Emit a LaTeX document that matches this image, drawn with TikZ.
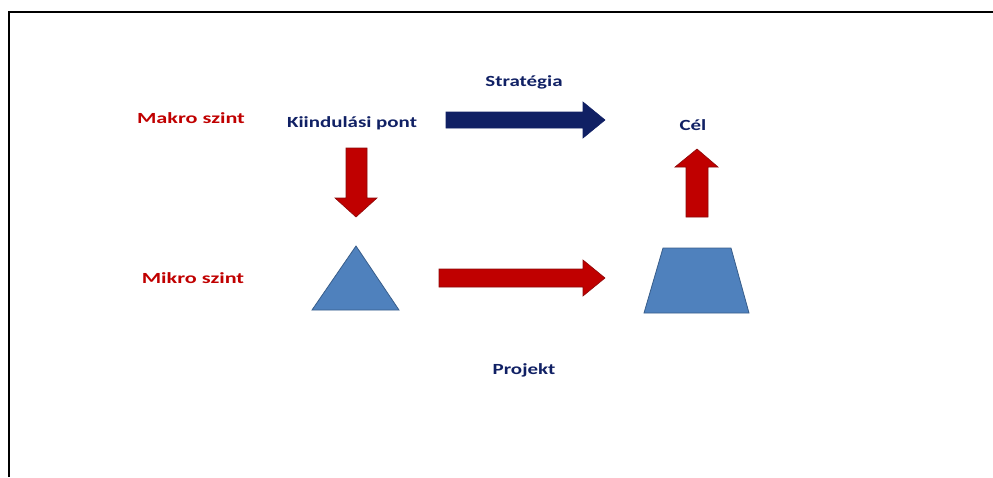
\documentclass[tikz,border=0pt]{standalone}
\usepackage{fontspec}
\setmainfont{Carlito}
\definecolor{navy}{RGB}{16,32,100}
\definecolor{darkred}{RGB}{192,0,0}
\definecolor{redline}{RGB}{140,10,10}
\definecolor{shapefill}{RGB}{79,129,189}
\definecolor{shapeline}{RGB}{56,93,138}
\newcommand{\navystretch}[1]{\scalebox{1.35}[1]{#1}}
\newcommand{\redstretch}[1]{\scalebox{1.43}[1]{#1}}
\tikzset{
  lbl/.style={font=\bfseries\fontsize{15.5}{18}\selectfont, inner sep=0pt},
  bluelbl/.style={lbl, text=navy},
  redlbl/.style={lbl, text=darkred},
  redarrow/.style={fill=darkred, draw=redline, line width=0.6pt},
  bluearrow/.style={fill=navy, draw=navy, line width=0.6pt},
  blueshape/.style={fill=shapefill, draw=shapeline, line width=0.8pt, line join=miter},
}
\begin{document}
\begin{tikzpicture}[x=1pt,y=-1pt]
\useasboundingbox (0,0) rectangle (993,477);
% frame (top and left only)
\draw[line width=2pt] (9,477) -- (9,12) -- (993,12);
% labels
\node[redlbl] (makro) at (191,118) {\redstretch{Makro szint}};
\node[redlbl] (mikro) at (193,278) {\redstretch{Mikro szint}};
\node[bluelbl] (start) at (352,123) {\navystretch{Kiindulási pont}};
\node[bluelbl] (strat) at (524,82) {\navystretch{Stratégia}};
\node[bluelbl] (cel) at (693,125) {\navystretch{Cél}};
\node[bluelbl] (proj) at (524,370) {\navystretch{Projekt}};
% blue arrow (strategy)
\draw[bluearrow] (446,112) -- (583,112) -- (583,102) -- (605,120) -- (583,138) -- (583,128) -- (446,128) -- cycle;
% red down arrow
\draw[redarrow] (346,148) -- (367,148) -- (367,198) -- (377,198) -- (356,217) -- (335,198) -- (346,198) -- cycle;
% red right arrow
\draw[redarrow] (439,269) -- (583,269) -- (583,260) -- (605,278) -- (583,296) -- (583,287) -- (439,287) -- cycle;
% red up arrow
\draw[redarrow] (686,217) -- (686,167) -- (675,167) -- (697,149) -- (718,167) -- (708,167) -- (708,217) -- cycle;
% triangle
\draw[blueshape] (356,246) -- (399,310) -- (312,310) -- cycle;
% trapezoid
\draw[blueshape] (663,248) -- (731,248) -- (749,313) -- (644,313) -- cycle;
\end{tikzpicture}
\end{document}
